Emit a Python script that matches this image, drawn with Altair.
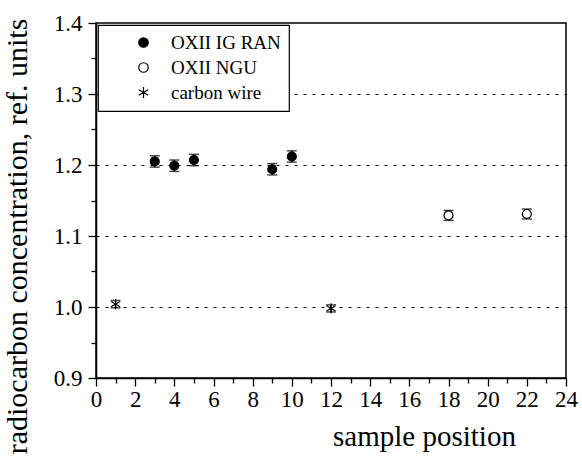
import altair as alt
import pandas as pd

# ---- data ----
series_names = ["OXII IG RAN", "OXII NGU", "carbon wire"]

x_ran = [3, 4, 5, 9, 10]
y_ran = [1.205, 1.199, 1.207, 1.194, 1.212]
e_ran = [0.008, 0.008, 0.008, 0.008, 0.008]

x_ngu = [18, 22]
y_ngu = [1.129, 1.131]
e_ngu = [0.007, 0.007]

x_cw = [1, 12]
y_cw = [1.004, 0.998]
e_cw = [0.005, 0.005]

x_ticks = list(range(0, 25))
y_ticks = [round(0.9 + 0.05 * i, 2) for i in range(11)]

rows = []
for name, xs, ys, es in [
    (series_names[0], x_ran, y_ran, e_ran),
    (series_names[1], x_ngu, y_ngu, e_ngu),
    (series_names[2], x_cw, y_cw, e_cw),
]:
    for xv, yv, ev in zip(xs, ys, es):
        rows.append({"series": name, "pos": xv, "val": yv, "err": ev})
df = pd.DataFrame(rows)

FONT = "Liberation Serif"
ASTERISK = "M0,-1.15L0,1.15M-1,-0.58L1,0.58M-1,0.58L1,-0.58"

x_major = "datum.value % 2 === 0"
y_major = "abs(round(datum.value*10) - datum.value*10) < 0.01"

x_scale = alt.Scale(domain=[0, 24], nice=False, zero=False)
y_scale = alt.Scale(domain=[0.9, 1.4], nice=False, zero=False)

x_axis = alt.Axis(
    values=x_ticks,
    labelExpr="datum.value % 2 === 0 ? datum.label : ''",
    tickSize={"condition": {"test": x_major, "value": 8}, "value": 5},
    labelPadding=2, labelFlush=False, labelOverlap=False,
    grid=False,
    title="sample position", titleFontSize=29,
    titleX=328, titleY=67, titleAlign="center", titleBaseline="alphabetic",
)

y_axis = alt.Axis(
    values=y_ticks,
    labelExpr=y_major + " ? format(datum.value, '.1f') : ''",
    tickSize={"condition": {"test": y_major, "value": 8}, "value": 5},
    labelPadding=6, labelOverlap=False, labelFlush=False,
    grid=True, gridColor="black", gridWidth=1.2, gridDash=[3, 6],
    gridOpacity={"condition": {"test": y_major + " && datum.value > 0.95 && datum.value < 1.35",
                               "value": 1}, "value": 0},
    title="radiocarbon concentration, ref. units",
    titleFontSize=30,
    titleX=-79, titleY=213, titleAngle=-90, titleAlign="center",
    titleBaseline="middle",
)

X = alt.X("pos:Q", scale=x_scale, axis=x_axis)

base = alt.Chart(df).transform_calculate(
    lo="datum.val - datum.err", hi="datum.val + datum.err"
)

bars = base.mark_rule(color="black", strokeWidth=1.5).encode(
    x=X,
    y=alt.Y("lo:Q", scale=y_scale, axis=y_axis),
    y2="hi:Q",
)

caps_lo = base.mark_tick(color="black", orient="horizontal", size=10, thickness=1.5).encode(
    x=X,
    y=alt.Y("lo:Q", scale=y_scale, axis=y_axis),
)

caps_hi = base.mark_tick(color="black", orient="horizontal", size=10, thickness=1.5).encode(
    x=X,
    y=alt.Y("hi:Q", scale=y_scale, axis=y_axis),
)

legend = alt.Legend(
    title=None, orient="none", legendX=2, legendY=2,
    fillColor="white", strokeColor="black",
    padding=8, symbolOffset=28, labelOffset=18, rowPadding=5,
    symbolSize=90,
)

points = base.mark_point(strokeWidth=1.2, opacity=1, size=80).encode(
    x=X,
    y=alt.Y("val:Q", scale=y_scale, axis=y_axis),
    shape=alt.Shape("series:N", scale=alt.Scale(domain=series_names,
                    range=["circle", "circle", ASTERISK]), legend=legend),
    fill=alt.Fill("series:N", scale=alt.Scale(domain=series_names,
                  range=["black", "white", "transparent"]), legend=legend),
    stroke=alt.Stroke("series:N", scale=alt.Scale(domain=series_names,
                      range=["black", "black", "black"]), legend=legend),
)

chart = alt.layer(bars, caps_lo, caps_hi, points).properties(
    width=470, height=355,
    background="white",
    autosize=alt.AutoSizeParams(type="none"),
    padding={"left": 96, "top": 23, "right": 16, "bottom": 78},
).configure_view(
    stroke="black", strokeWidth=1.5
).configure_axis(
    labelFont=FONT, labelFontSize=23, labelColor="black",
    titleFont=FONT, titleFontWeight="normal", titleColor="black",
    tickColor="black", tickWidth=1.3, domainColor="black", domainWidth=1.5,
).configure_legend(
    labelFont=FONT, labelFontSize=19, labelColor="black",
    symbolStrokeWidth=1.2, strokeWidth=1.2,
)

chart.save("out.html", embed_options={"renderer": "svg", "actions": False})
